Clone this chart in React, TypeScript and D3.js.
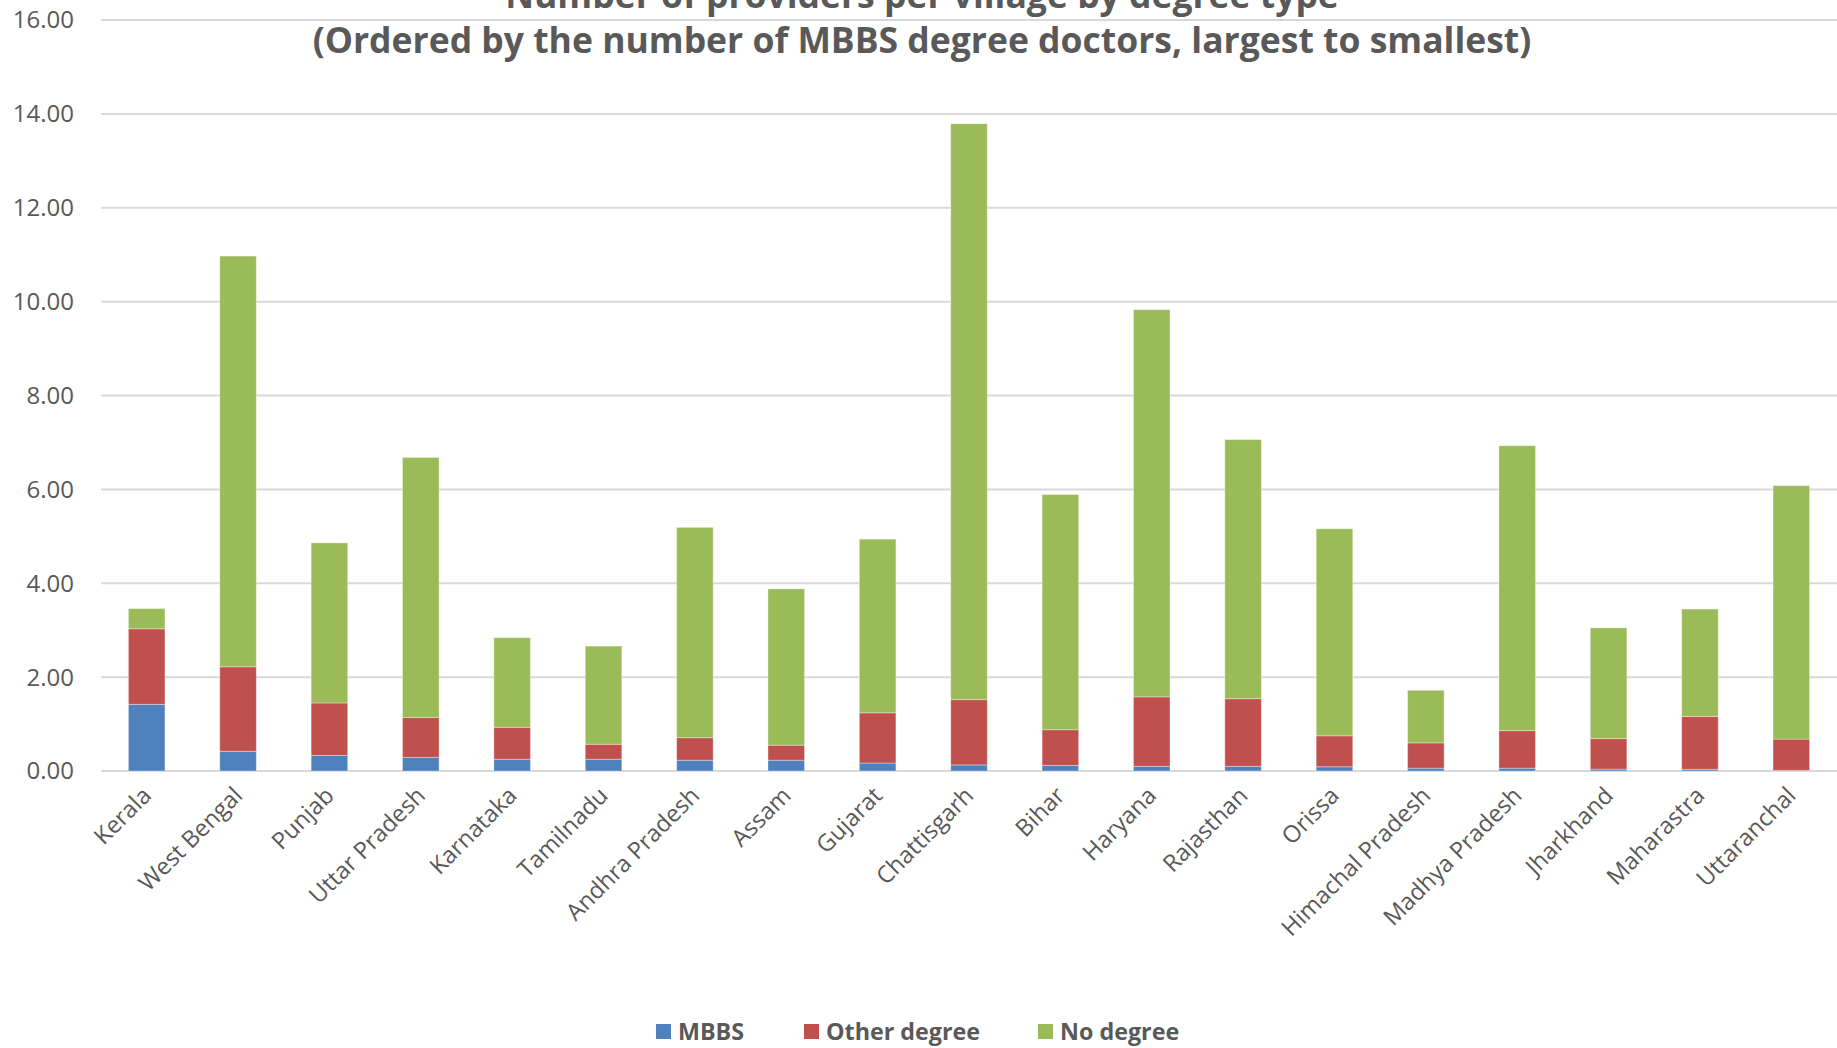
import React from "react";
import * as d3 from "d3";

const states = ["Kerala","West Bengal","Punjab","Uttar Pradesh","Karnataka","Tamilnadu","Andhra Pradesh","Assam","Gujarat","Chattisgarh","Bihar","Haryana","Rajasthan","Orissa","Himachal Pradesh","Madhya Pradesh","Jharkhand","Maharastra","Uttaranchal"];
const mbbs = [1.42,0.42,0.33,0.29,0.25,0.25,0.23,0.23,0.17,0.13,0.12,0.10,0.10,0.09,0.06,0.06,0.04,0.035,0.015];
const otherDegree = [1.61,1.80,1.12,0.85,0.68,0.32,0.48,0.32,1.07,1.39,0.76,1.48,1.44,0.66,0.54,0.80,0.65,1.125,0.665];
const noDegree = [0.43,8.75,3.41,5.54,1.91,2.09,4.48,3.33,3.70,12.27,5.01,8.25,5.52,4.41,1.12,6.07,2.36,2.29,5.40];
const seriesNames = ["MBBS","Other degree","No degree"];
const seriesColors = ["#4F81BD","#C0504D","#9BBB59"];
const yTicks = [0,2,4,6,8,10,12,14,16];
const titleLines = ["Number of providers per village by degree type","(Ordered by the number of MBBS degree doctors, largest to smallest)"];

const W = 1837, H = 1048;
const FONT = "'Open Sans', 'Noto Sans', sans-serif";
const TXT = "#595959";

export default function App() {
  const x = d3.scaleBand<string>().domain(states).range([101, 1837]).paddingInner(0.6).paddingOuter(0.3);
  const y = d3.scaleLinear().domain([0, 16]).range([771, 20]);
  const rows = states.map((s, i) => ({ state: s, MBBS: mbbs[i], "Other degree": otherDegree[i], "No degree": noDegree[i] }));
  const stacked = d3.stack<any>().keys(seriesNames)(rows);
  const legendX = [656, 804, 1038];
  return (
    <div style={{ position: "fixed", left: 0, top: 0 }}>
      <svg width={W} height={H} style={{ display: "block", background: "#fff" }}>
        {yTicks.map(t => (
          <g key={t}>
            <line x1={101} x2={1837} y1={y(t)} y2={y(t)} stroke="#D9D9D9" strokeWidth={2} />
            <text x={74} y={y(t)} dy="0.35em" textAnchor="end" fontFamily={FONT} fontSize={24} fill={TXT}>{t.toFixed(2)}</text>
          </g>
        ))}
        {stacked.map((ser, si) => (
          <g key={ser.key} fill={seriesColors[si]}>
            {ser.map((d, i) => (
              <rect key={i} x={x(states[i])} width={x.bandwidth()} y={y(d[1])} height={Math.max(0, y(d[0]) - y(d[1]))}
                stroke="#ffffff" strokeOpacity={0.35} strokeWidth={1} />
            ))}
          </g>
        ))}
        {states.map(s => {
          const cx = (x(s) as number) + x.bandwidth() / 2 + 6;
          return (
            <text key={s} transform={`translate(${cx},${797}) rotate(-45)`} textAnchor="end" fontFamily={FONT} fontSize={23.5} fill={TXT}>{s}</text>
          );
        })}
        <text x={922} y={8} textAnchor="middle" fontFamily={FONT} fontWeight="bold" fontSize={35.5} fill={TXT}>{titleLines[0]}</text>
        <text x={922} y={53} textAnchor="middle" fontFamily={FONT} fontWeight="bold" fontSize={35.5} fill={TXT}>{titleLines[1]}</text>
        {seriesNames.map((n, i) => (
          <g key={n}>
            <rect x={legendX[i]} y={1024} width={15} height={15} fill={seriesColors[i]} />
            <text x={legendX[i] + 22} y={1032} dy="0.35em" fontFamily={FONT} fontWeight="bold" fontSize={23.3} fill={TXT}>{n}</text>
          </g>
        ))}
      </svg>
    </div>
  );
}
